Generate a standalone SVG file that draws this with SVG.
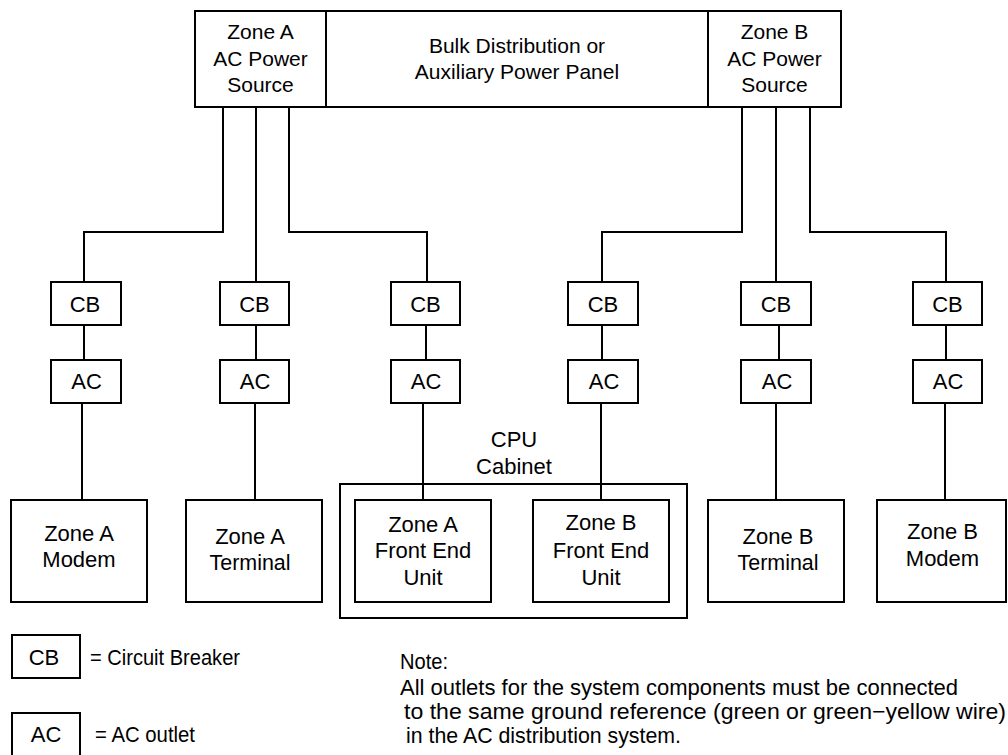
<svg xmlns="http://www.w3.org/2000/svg" width="1008" height="755" viewBox="0 0 1008 755">
<style>
text{font-family:"Liberation Sans",Arial,sans-serif;font-size:22px;fill:#000;text-anchor:middle}
.top{font-size:21px}
.lg{text-anchor:start}
rect{fill:#fff;stroke:#000;stroke-width:2}
.w{fill:none;stroke:#000;stroke-width:2}
</style>
<rect x="0" y="0" width="1008" height="755" style="stroke:none"/>
<g id="panel">
<rect x="195" y="11" width="646" height="96"/>
<line class="w" x1="326" y1="11" x2="326" y2="107"/>
<line class="w" x1="708" y1="11" x2="708" y2="107"/>
</g>
<g id="zoneA-source">
<text class="top" x="260.5" y="39">Zone A</text>
<text class="top" x="260.5" y="65.5">AC Power</text>
<text class="top" x="260.5" y="92">Source</text>
</g>
<g id="bulk">
<text class="top" x="517" y="53">Bulk Distribution or</text>
<text class="top" x="517" y="79">Auxiliary Power Panel</text>
</g>
<g id="zoneB-source">
<text class="top" x="774.5" y="39">Zone B</text>
<text class="top" x="774.5" y="65.5">AC Power</text>
<text class="top" x="774.5" y="92">Source</text>
</g>
<g id="connectors" class="w">
<path class="w" d="M223 107V232H84V282"/>
<path class="w" d="M256 107V282"/>
<path class="w" d="M289 107V232H427V282"/>
<path class="w" d="M742 107V232H602V282"/>
<path class="w" d="M776 107V282"/>
<path class="w" d="M810 107V232H946V282"/>
<path class="w" d="M84 325V360M256 325V360M426 325V360M602 325V360M779 325V360M946 325V360"/>
<path class="w" d="M82 403V500M255 403V500M423 403V500M601 403V500M776 403V500M945 403V500"/>
</g>
<g id="cb1"><rect x="51" y="282" width="70" height="43"/><text x="85" y="312">CB</text></g>
<g id="cb2"><rect x="220" y="282" width="69" height="43"/><text x="254.5" y="312">CB</text></g>
<g id="cb3"><rect x="391" y="282" width="69" height="43"/><text x="425.5" y="312">CB</text></g>
<g id="cb4"><rect x="568" y="282" width="70" height="43"/><text x="603" y="312">CB</text></g>
<g id="cb5"><rect x="741" y="282" width="70" height="43"/><text x="776" y="312">CB</text></g>
<g id="cb6"><rect x="913" y="282" width="69" height="43"/><text x="947.5" y="312">CB</text></g>
<g id="ac1"><rect x="51" y="360" width="70" height="43"/><text x="86.5" y="389">AC</text></g>
<g id="ac2"><rect x="220" y="360" width="69" height="43"/><text x="255" y="389">AC</text></g>
<g id="ac3"><rect x="391" y="360" width="69" height="43"/><text x="426" y="389">AC</text></g>
<g id="ac4"><rect x="568" y="360" width="70" height="43"/><text x="604" y="389">AC</text></g>
<g id="ac5"><rect x="741" y="360" width="70" height="43"/><text x="777" y="389">AC</text></g>
<g id="ac6"><rect x="913" y="360" width="69" height="43"/><text x="948" y="389">AC</text></g>
<g id="cpu-cabinet">
<rect x="340" y="484" width="347" height="134" style="fill:none"/>
<text x="514" y="447">CPU</text>
<text x="514" y="474">Cabinet</text>
</g>
<g id="zoneA-modem"><rect x="11" y="500" width="136" height="102"/><text x="79" y="541">Zone A</text><text x="79" y="567">Modem</text></g>
<g id="zoneA-terminal"><rect x="186" y="500" width="136" height="102"/><text x="250" y="544">Zone A</text><text x="250" y="570" textLength="81" lengthAdjust="spacingAndGlyphs">Terminal</text></g>
<g id="zoneA-feu"><rect x="355" y="500" width="136" height="102"/><text x="423" y="532">Zone A</text><text x="423" y="558">Front End</text><text x="423" y="585">Unit</text></g>
<g id="zoneB-feu"><rect x="533" y="500" width="136" height="102"/><text x="601" y="530">Zone B</text><text x="601" y="558">Front End</text><text x="601" y="585">Unit</text></g>
<g id="zoneB-terminal"><rect x="708" y="500" width="136" height="102"/><text x="778" y="544">Zone B</text><text x="778" y="570" textLength="81" lengthAdjust="spacingAndGlyphs">Terminal</text></g>
<g id="zoneB-modem"><rect x="877" y="500" width="129" height="102"/><text x="942.5" y="539">Zone B</text><text x="942.5" y="566">Modem</text></g>
<g id="legend">
<rect x="12" y="635" width="68" height="43"/><text x="44" y="665">CB</text>
<text class="lg" x="90" y="665" textLength="150" lengthAdjust="spacingAndGlyphs">= Circuit Breaker</text>
<rect x="12" y="713" width="68" height="44"/><text x="46" y="742">AC</text>
<text class="lg" x="95" y="742" textLength="100" lengthAdjust="spacingAndGlyphs">= AC outlet</text>
</g>
<g id="note">
<text class="lg" x="400" y="669" textLength="48" lengthAdjust="spacingAndGlyphs">Note:</text>
<text class="lg" x="400" y="695" textLength="558" lengthAdjust="spacingAndGlyphs">All outlets for the system components must be connected</text>
<text class="lg" x="404" y="719" textLength="602" lengthAdjust="spacingAndGlyphs">to the same ground reference (green or green−yellow wire)</text>
<text class="lg" x="406" y="743" textLength="275" lengthAdjust="spacingAndGlyphs">in the AC distribution system.</text>
</g>
</svg>
